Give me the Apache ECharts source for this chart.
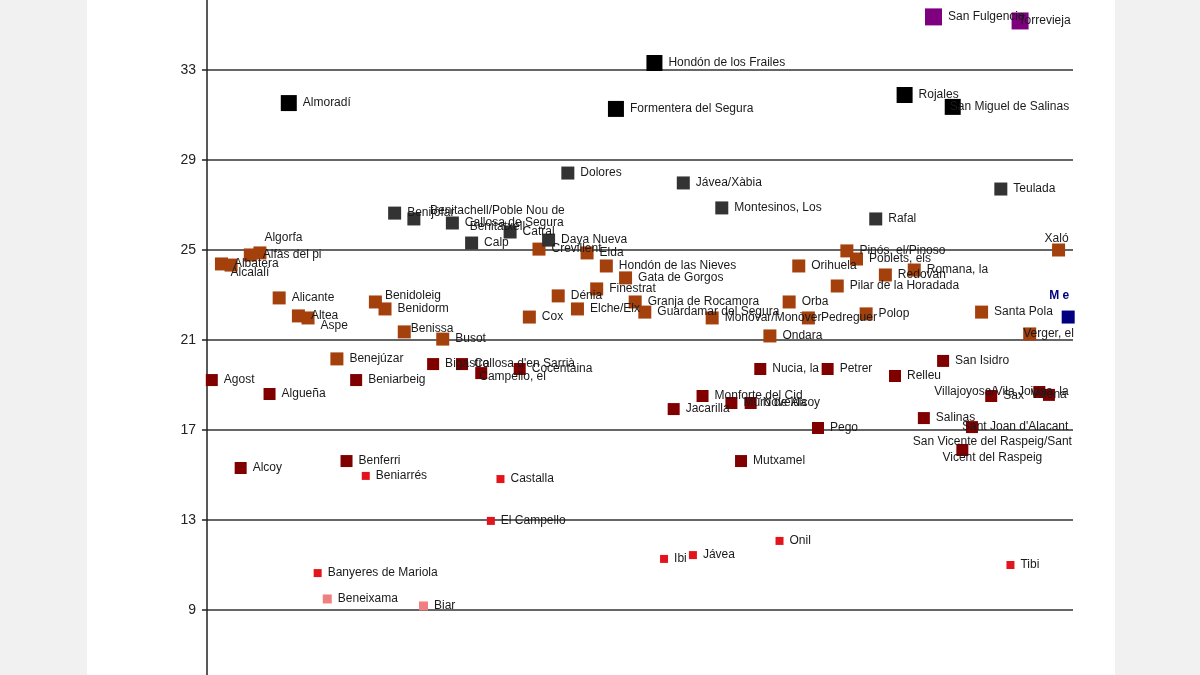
<!DOCTYPE html>
<html>
<head>
<meta charset="utf-8">
<script src="https://cdn.jsdelivr.net/npm/echarts@6/dist/echarts.min.js"></script>
<style>
  html, body { margin: 0; padding: 0; background: #f1f1f1; width: 1200px; height: 675px; overflow: hidden; }
  #chart { position: absolute; left: 87px; top: -20px; width: 1028px; height: 720px; background: #ffffff; }
</style>
</head>
<body>
<div id="chart"></div>
<script>
// Municipalities in alphabetical (rank) order; x position = rank
const names = [
  "Agost","Albatera","Alcalalí","Alcoy","Alfàs del pi","Algorfa","Algueña","Alicante","Almoradí","Altea",
  "Aspe","Banyeres de Mariola","Beneixama","Benejúzar","Benferri","Beniarbeig","Beniarrés","Benidoleig","Benidorm","Benijófar",
  "Benissa","Benitachell/Poble Nou de\nBenitatxell","Biar","Bigastro","Busot","Callosa de Segura","Callosa d'en Sarrià","Calp","Campello, el","El Campello",
  "Castalla","Catral","Cocentaina","Cox","Crevillent","Daya Nueva","Dénia","Dolores","Elche/Elx","Elda",
  "Finestrat","Hondón de las Nieves","Formentera del Segura","Gata de Gorgos","Granja de Rocamora","Guardamar del Segura","Hondón de los Frailes","Ibi","Jacarilla","Jávea/Xàbia",
  "Jávea","Monforte del Cid","Monóvar/Monòver","Montesinos, Los","Muro de Alcoy","Mutxamel","Novelda","Nucia, la","Ondara","Onil",
  "Orba","Orihuela","Pedreguer","Pego","Petrer","Pilar de la Horadada","Pinós, el/Pinoso","Poblets, els","Polop","Rafal",
  "Redován","Relleu","Rojales","Romana, la","Salinas","San Fulgencio","San Isidro","San Miguel de Salinas","San Vicente del Raspeig/Sant\nVicent del Raspeig","Sant Joan d'Alacant",
  "Santa Pola","Sax","Teulada","Tibi","Torrevieja","Verger, el","Villajoyosa/Vila Joiosa, la","Villena","Xaló","M e"
];
const values = [
  19.22,24.38,24.33,15.31,24.78,24.87,18.60,22.87,31.53,22.07,
  21.98,10.64,9.49,20.16,15.62,19.22,14.96,22.69,22.38,26.64,
  21.36,26.38,9.18,19.93,21.04,26.20,19.93,25.31,19.53,12.96,
  14.82,25.80,19.71,22.02,25.04,25.44,22.96,28.42,22.38,24.87,
  23.27,24.29,31.27,23.76,22.69,22.24,33.31,11.27,17.93,27.98,
  11.44,18.51,21.98,26.87,18.20,15.62,18.20,19.71,21.18,12.07,
  22.69,24.29,21.98,17.09,19.71,23.40,24.96,24.60,22.16,26.38,
  23.89,19.40,31.89,24.11,17.53,35.36,20.07,31.36,16.11,17.13,
  22.24,18.51,27.71,11.00,35.18,21.27,18.69,18.56,25.00,22.02
];
const groups = [
  "dr","br","br","dr","br","br","dr","br","bk","br",
  "br","rd","pk","br","dr","dr","rd","br","br","dg",
  "br","dg","pk","dr","br","dg","dr","dg","dr","rd",
  "rd","dg","dr","br","br","dg","br","dg","br","br",
  "br","br","bk","br","br","br","bk","rd","dr","dg",
  "rd","dr","br","dg","dr","dr","dr","dr","br","rd",
  "br","br","br","dr","dr","br","br","br","br","dg",
  "br","dr","bk","br","dr","pu","dr","bk","dr","dr",
  "br","dr","dg","rd","pu","br","dr","dr","br","me"
];
const yTicks = [9, 13, 17, 21, 25, 29, 33];

// Styles per group
const groupStyle = {
  pu: { color: "#7f007f", size: 17 },
  bk: { color: "#000000", size: 16 },
  dg: { color: "#333333", size: 13 },
  br: { color: "#a3400c", size: 13 },
  dr: { color: "#800000", size: 12 },
  rd: { color: "#e3141b", size: 8 },
  pk: { color: "#f08080", size: 9 },
  me: { color: "#000080", size: 13 }
};
const groupOrder = ["pk", "rd", "dr", "br", "dg", "bk", "pu", "me"];

// Label placement tweaks (by name)
const labelTweak = {
  "Algorfa": { offset: [-8, -15] },
  "Alcalalí": { offset: [-13, 8] },
  "Aspe": { offset: [0, 8] },
  "Benidoleig": { offset: [-3, -6] },
  "Benissa": { offset: [-6, -3] },
  "Benitachell/Poble Nou de\nBenitatxell": { offset: [71, 0], align: "center" },
  "Campello, el": { offset: [-14, 4] },
  "Xaló": { position: "top", offset: [-2, 9] },
  "Verger, el": { offset: [-19, 0] },
  "M e": { position: "top", offset: [-9, -1], color: "#000080", fontWeight: "bold" },
  "Torrevieja": { offset: [-16, 0] },
  "San Miguel de Salinas": { offset: [-17, 0] },
  "Sant Joan d'Alacant": { offset: [-22, 0] },
  "San Vicente del Raspeig/Sant\nVicent del Raspeig": { offset: [18, 0], align: "center" },
  "Villajoyosa/Vila Joiosa, la": { offset: [-117, 0] },
  "Villena": { offset: [-30, 0] }
};

const series = groupOrder.map(function (g) {
  const st = groupStyle[g];
  const data = [];
  names.forEach(function (n, i) {
    if (groups[i] !== g) return;
    const item = { name: n, value: [i + 1, values[i]] };
    if (labelTweak[n]) item.label = Object.assign({}, labelTweak[n]);
    data.push(item);
  });
  return {
    type: "scatter",
    symbol: "rect",
    symbolSize: st.size,
    itemStyle: { color: st.color, opacity: 1 },
    label: {
      show: true,
      position: "right",
      distance: 6,
      formatter: "{b}",
      fontFamily: "Liberation Sans, Arial, sans-serif",
      fontSize: 12,
      color: "#1a1a1a",
      lineHeight: 16
    },
    emphasis: { disabled: true },
    z: 3,
    data: data
  };
});

const chart = echarts.init(document.getElementById("chart"), null, { renderer: "canvas" });
chart.setOption({
  animation: false,
  backgroundColor: "#ffffff",
  grid: { left: 120, right: 42, top: 0, bottom: 0, containLabel: false },
  xAxis: {
    type: "value",
    min: 0.5,
    max: 90.5,
    show: false
  },
  yAxis: {
    type: "value",
    min: 5,
    max: 37,
    interval: 4,
    axisLine: { show: true, onZero: false, lineStyle: { color: "#222", width: 1.5 } },
    axisTick: { show: true, inside: false, length: 5, lineStyle: { color: "#222", width: 1.5 } },
    axisLabel: {
      margin: 11,
      fontFamily: "Liberation Sans, Arial, sans-serif",
      fontSize: 14,
      color: "#222",
      formatter: function (v) { return yTicks.indexOf(v) >= 0 ? String(v) : ""; }
    },
    splitLine: { show: true, lineStyle: { color: "#333", width: 1.5 } }
  },
  series: series
});
</script>
</body>
</html>
